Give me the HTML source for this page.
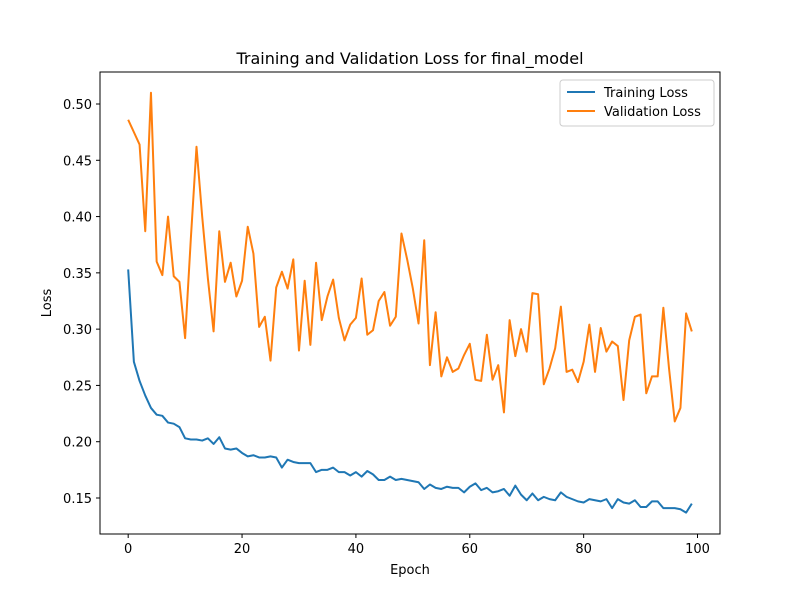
<!DOCTYPE html>
<html><head><meta charset="utf-8"><style>
body{margin:0;background:#fff;}
svg{display:block;font-family:"DejaVu Sans","Liberation Sans",sans-serif;}
</style></head><body>
<svg id="chart" width="800" height="600">
<rect x="0" y="0" width="800" height="600" fill="#fff"/>
<text x="410" y="64" text-anchor="middle" font-size="16">Training and Validation Loss for final_model</text>
<g id="grid"></g>
<g id="series"></g>
<rect x="100" y="72" width="620" height="462" fill="none" stroke="#000" stroke-width="1"/>
<g id="axes" font-size="13"></g>
<text x="410" y="574" text-anchor="middle" font-size="13">Epoch</text>
<text x="51" y="303" text-anchor="middle" font-size="13" transform="rotate(-90 51 303)">Loss</text>
<g>
<rect x="560" y="80" width="154" height="46" rx="3" fill="#fff" fill-opacity="0.8" stroke="#ccc"/>
<g>
<line x1="567" y1="92" x2="595" y2="92" stroke="#1f77b4" stroke-width="2"/>
<text x="604" y="97" font-size="13">Training Loss</text></g>
<g>
<line x1="567" y1="111" x2="595" y2="111" stroke="#ff7f0e" stroke-width="2"/>
<text x="604" y="116" font-size="13">Validation Loss</text></g>
</g>
</svg>
<script>
const trainLoss=[0.353,0.271,0.254,0.241,0.230,0.224,0.223,0.217,0.216,0.213,0.203,0.202,0.202,0.201,0.203,0.198,0.204,0.194,0.193,0.194,0.190,0.187,0.188,0.186,0.186,0.187,0.186,0.177,0.184,0.182,0.181,0.181,0.181,0.173,0.175,0.175,0.177,0.173,0.173,0.170,0.173,0.169,0.174,0.171,0.166,0.166,0.169,0.166,0.167,0.166,0.165,0.164,0.158,0.162,0.159,0.158,0.160,0.159,0.159,0.155,0.160,0.163,0.157,0.159,0.155,0.156,0.158,0.152,0.161,0.153,0.148,0.154,0.148,0.151,0.149,0.148,0.155,0.151,0.149,0.147,0.146,0.149,0.148,0.147,0.149,0.141,0.149,0.146,0.145,0.148,0.142,0.142,0.147,0.147,0.141,0.141,0.141,0.140,0.137,0.145];
const valLoss=[0.486,0.475,0.464,0.387,0.510,0.360,0.348,0.400,0.347,0.342,0.292,0.380,0.462,0.400,0.345,0.298,0.387,0.342,0.359,0.329,0.343,0.391,0.367,0.302,0.311,0.272,0.337,0.351,0.336,0.362,0.281,0.343,0.286,0.359,0.308,0.329,0.344,0.310,0.290,0.304,0.310,0.345,0.295,0.299,0.325,0.333,0.303,0.311,0.385,0.362,0.336,0.305,0.379,0.268,0.315,0.258,0.275,0.262,0.265,0.277,0.287,0.255,0.254,0.295,0.255,0.268,0.226,0.308,0.276,0.300,0.280,0.332,0.331,0.251,0.265,0.283,0.320,0.262,0.264,0.253,0.271,0.304,0.262,0.301,0.280,0.289,0.285,0.237,0.290,0.311,0.313,0.243,0.258,0.258,0.319,0.265,0.218,0.230,0.314,0.298];
const xTicks=[0,20,40,60,80,100];
const yTicks=[0.15,0.20,0.25,0.30,0.35,0.40,0.45,0.50];
const NS="http://www.w3.org/2000/svg";
function xs(v){return 100+(v+4.95)/108.9*620;}
function ys(v){return 104+(0.5-v)*1125.7;}
const axes=document.getElementById('axes');
const series=document.getElementById('series');
xTicks.forEach(t=>{
  const l=document.createElementNS(NS,'line');
  l.setAttribute('x1',xs(t));l.setAttribute('x2',xs(t));l.setAttribute('y1',534);l.setAttribute('y2',538);l.setAttribute('stroke','#000');
  
  
  axes.appendChild(l);
  const tx=document.createElementNS(NS,'text');
  tx.setAttribute('x',xs(t));tx.setAttribute('y',553);tx.setAttribute('text-anchor','middle');tx.textContent=t;
  
  
  axes.appendChild(tx);
});
yTicks.forEach(t=>{
  const l=document.createElementNS(NS,'line');
  l.setAttribute('x1',96);l.setAttribute('x2',100);l.setAttribute('y1',ys(t));l.setAttribute('y2',ys(t));l.setAttribute('stroke','#000');
  
  
  axes.appendChild(l);
  const tx=document.createElementNS(NS,'text');
  tx.setAttribute('x',92);tx.setAttribute('y',ys(t)+5);tx.setAttribute('text-anchor','end');tx.textContent=t.toFixed(2);
  
  
  axes.appendChild(tx);
});
function line(arr,color,name){
  const p=document.createElementNS(NS,'polyline');
  p.setAttribute('points',arr.map((v,i)=>xs(i).toFixed(2)+','+ys(v).toFixed(2)).join(' '));
  p.setAttribute('fill','none');p.setAttribute('stroke',color);p.setAttribute('stroke-width','2');p.setAttribute('stroke-linejoin','round');
  
  
  series.appendChild(p);
}
line(trainLoss,'#1f77b4','training-loss-line');
line(valLoss,'#ff7f0e','validation-loss-line');
</script>
</body></html>
